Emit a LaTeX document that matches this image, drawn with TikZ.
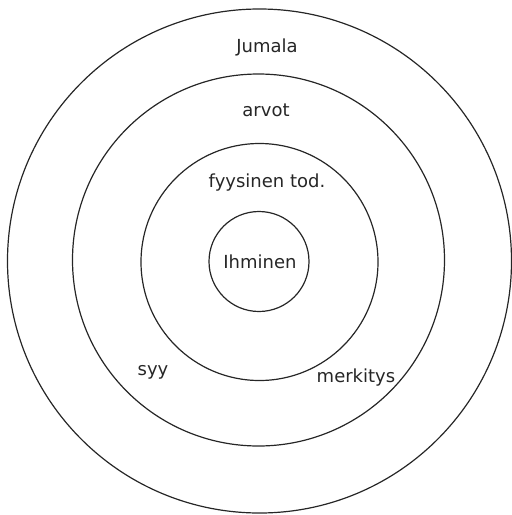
\documentclass[tikz,border=0pt]{standalone}
\usepackage{fontspec}
\setmainfont{DejaVu Sans}
\begin{document}
\begin{tikzpicture}[x=1pt,y=-1pt,
  ring/.style={draw=black!85,line width=1.2pt,circle,inner sep=0pt},
  lbl/.style={font=\fontsize{18}{21}\selectfont,text=black!85,inner sep=0pt,anchor=base}]
\useasboundingbox (0,0) rectangle (512,515);
\node[ring,minimum size=504pt] (c1) at (259.5,261) {};
\node[ring,minimum size=372pt] (c2) at (258.5,260) {};
\node[ring,minimum size=237pt] (c3) at (259.5,262) {};
\node[ring,minimum size=100pt] (c4) at (259,261.5) {};
\node[lbl] (jumala) at (267,52) {Jumala};
\node[lbl] (arvot) at (266,116) {arvot};
\node[lbl] (fyys) at (267,187) {fyysinen tod.};
\node[lbl] (ihm) at (260,268) {Ihminen};
\node[lbl] (syy) at (153,375) {syy};
\node[lbl] (merk) at (356,382) {merkitys};
\end{tikzpicture}
\end{document}
